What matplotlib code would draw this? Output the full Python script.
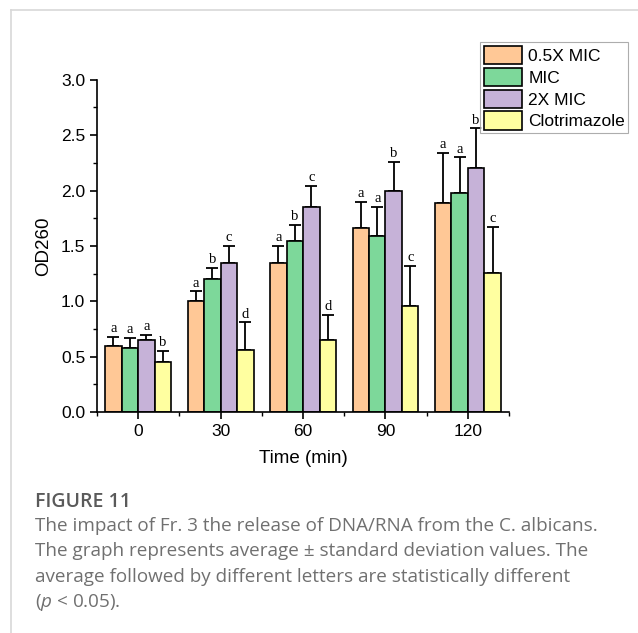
import numpy as np
import matplotlib
matplotlib.use("Agg")
import matplotlib.pyplot as plt
from matplotlib.lines import Line2D
from matplotlib.ticker import MultipleLocator

plt.rcParams['font.family'] = ['Liberation Sans', 'DejaVu Sans']
plt.rcParams['mathtext.fontset'] = 'custom'
plt.rcParams['mathtext.it'] = 'Open Sans:italic'
plt.rcParams['mathtext.rm'] = 'Open Sans'

# data
times = ["0", "30", "60", "90", "120"]
series = ["0.5X MIC", "MIC", "2X MIC", "Clotrimazole"]
colors = ["#FFC896", "#7DD89A", "#C6B2D8", "#FFFFA0"]

half_mic = [0.60, 1.00, 1.35, 1.66, 1.89]
half_mic_err = [0.08, 0.09, 0.15, 0.24, 0.45]
mic = [0.58, 1.20, 1.54, 1.59, 1.98]
mic_err = [0.09, 0.10, 0.15, 0.26, 0.32]
two_mic = [0.65, 1.35, 1.85, 2.00, 2.20]
two_mic_err = [0.05, 0.15, 0.19, 0.26, 0.36]
clotri = [0.45, 0.56, 0.65, 0.96, 1.26]
clotri_err = [0.10, 0.25, 0.23, 0.36, 0.41]

letters = [
    ["a", "a", "a", "a", "a"],
    ["a", "b", "b", "a", "a"],
    ["a", "c", "c", "b", "b"],
    ["b", "d", "d", "c", "c"],
]

values = [half_mic, mic, two_mic, clotri]
errors = [half_mic_err, mic_err, two_mic_err, clotri_err]

fig = plt.figure(figsize=(6.38, 6.33), dpi=100)
ax = fig.add_axes([0.152, 0.349, 0.646, 0.525])

x = np.arange(len(times))
w = 0.2
for i in range(4):
    pos = x + (i - 1.5) * w
    ax.bar(pos, values[i], w, color=colors[i], edgecolor="black", linewidth=1.2,
           label=series[i], zorder=2)
    ax.errorbar(pos, values[i], yerr=[np.zeros(len(times)), errors[i]], fmt="none",
                ecolor="black", elinewidth=1.3, capsize=4.5, capthick=1.3, zorder=1)
    for j in range(len(times)):
        ax.text(pos[j], values[i][j] + errors[i][j] + 0.015, letters[i][j],
                ha="center", va="bottom", fontsize=10.5, family="Liberation Serif")

ax.set_xlim(-0.5, 4.5)
ax.set_ylim(0, 3.0)
ax.set_xticks(x)
ax.set_xticklabels(times)
ax.xaxis.set_minor_locator(MultipleLocator(0.5))
ax.yaxis.set_major_locator(MultipleLocator(0.5))
ax.yaxis.set_minor_locator(MultipleLocator(0.25))
ax.yaxis.set_major_formatter(matplotlib.ticker.FormatStrFormatter("%.1f"))
ax.tick_params(which="major", direction="out", length=5, width=1.2, labelsize=12.5)
ax.tick_params(which="minor", direction="out", length=3, width=1.0)
for s in ["top", "right"]:
    ax.spines[s].set_visible(False)
for s in ["left", "bottom"]:
    ax.spines[s].set_linewidth(1.2)
ax.set_xlabel("Time (min)", fontsize=13.5, labelpad=8)
ax.set_ylabel("OD260", fontsize=13.5, labelpad=6)

leg = fig.legend(loc="upper right", bbox_to_anchor=(0.985, 0.933), fontsize=12.5,
                 frameon=True, fancybox=False, edgecolor="#999999",
                 handlelength=2.2, handleheight=1.25, handletextpad=0.35,
                 labelspacing=0.2, borderpad=0.2, borderaxespad=0)
leg.get_frame().set_linewidth(0.8)

# page border
fig.add_artist(Line2D([11 / 638, 11 / 638], [0, 1 - 10 / 633], color="#d8d8d8", lw=1.2))
fig.add_artist(Line2D([11 / 638, 1], [1 - 10 / 633, 1 - 10 / 633], color="#d8d8d8", lw=1.2))

# caption
fig.text(35 / 638, 1 - 502 / 633, "FIGURE 11", fontsize=14, fontweight="semibold",
         color="#5a5a5a", family="Open Sans", va="center")
caption = [
    "The impact of Fr. 3 the release of DNA/RNA from the C. albicans.",
    "The graph represents average ± standard deviation values. The",
    "average followed by different letters are statistically different",
    r"($p$ < 0.05).",
]
for k, line in enumerate(caption):
    fig.text(35 / 638, 1 - (526 + 25.5 * k) / 633, line, fontsize=13.6,
             color="#707070", family="Open Sans", va="center")

fig.savefig("out.png", dpi=100)
